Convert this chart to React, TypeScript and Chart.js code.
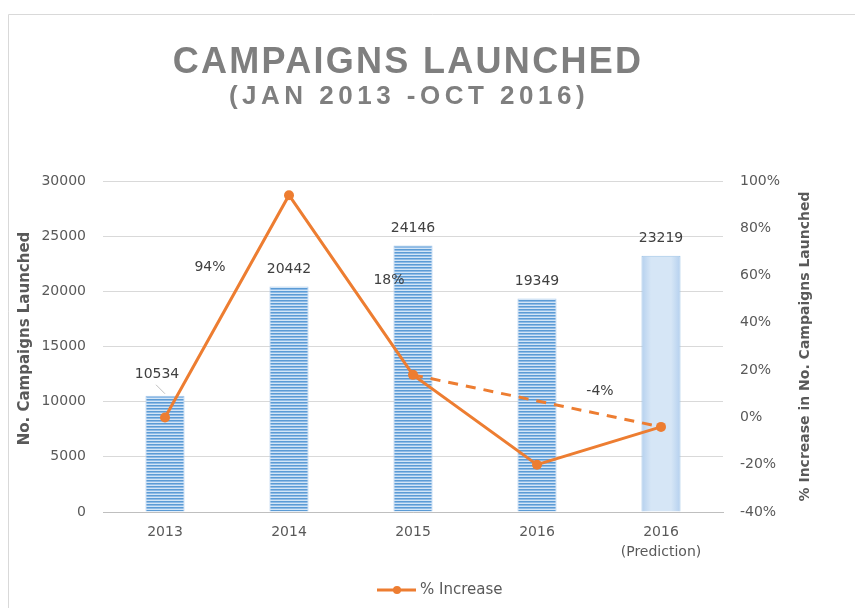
import React, { useEffect, useRef } from 'react';
import { Chart, registerables } from 'chart.js';

Chart.register(...registerables);

const categories: (string | string[])[] = ['2013', '2014', '2015', '2016', ['2016', '(Prediction)']];
const campaigns = [10534, 20442, 24146, 19349, 23219];
const pctIncrease = [0, 94, 18, -20, -4];
const pctPredictionTrend: (number | null)[] = [null, null, 18, null, -4];
const pctLabelShown = [false, true, true, false, true];
const leftAxis = { min: 0, max: 30000, step: 5000 };
const rightAxis = { min: -40, max: 100, step: 20 };

const titleText = 'CAMPAIGNS LAUNCHED';
const subtitleText = '(JAN 2013 -OCT 2016)';
const leftTitle = 'No. Campaigns Launched';
const rightTitle = '% Increase in No. Campaigns Launched';
const legendText = '% Increase';

const FONT = "'DejaVu Sans', Verdana, sans-serif";
const ORANGE = '#ed7d31';
const TEXT = '#595959';

export default function App() {
  const ref = useRef<HTMLCanvasElement | null>(null);

  useEffect(() => {
    const canvas = ref.current;
    if (!canvas) return;

    const pc = document.createElement('canvas');
    pc.width = 4;
    pc.height = 3;
    const p = pc.getContext('2d')!;
    p.fillStyle = '#5b9bd5';
    p.fillRect(0, 0, 4, 1);
    p.fillStyle = '#8fbbe6';
    p.fillRect(0, 1, 4, 1);
    p.fillStyle = '#d3e5f6';
    p.fillRect(0, 2, 4, 1);
    const stripe = canvas.getContext('2d')!.createPattern(pc, 'repeat')!;

    const decor = {
      id: 'decor',
      beforeDraw(chart: any) {
        const ctx = chart.ctx;
        ctx.save();
        ctx.strokeStyle = '#d9d9d9';
        ctx.lineWidth = 1;
        ctx.beginPath();
        ctx.moveTo(8.5, 700);
        ctx.lineTo(8.5, 14.5);
        ctx.lineTo(900, 14.5);
        ctx.stroke();
        ctx.restore();
      },
      afterDatasetsDraw(chart: any) {
        const ctx = chart.ctx;
        ctx.save();
        ctx.font = `14px ${FONT}`;
        ctx.fillStyle = '#404040';
        ctx.textAlign = 'center';
        ctx.textBaseline = 'middle';
        const barMeta = chart.getDatasetMeta(0);
        barMeta.data.forEach((bar: any, i: number) => {
          if (i === 0) {
            ctx.fillText(String(campaigns[i]), bar.x - 8, bar.y - 21);
            ctx.strokeStyle = '#bfbfbf';
            ctx.lineWidth = 1;
            ctx.beginPath();
            ctx.moveTo(bar.x - 9, bar.y - 11);
            ctx.lineTo(bar.x, bar.y - 2);
            ctx.stroke();
          } else {
            ctx.fillText(String(campaigns[i]), bar.x, bar.y - 17);
          }
        });
        const offsets: Record<number, [number, number]> = { 1: [-79, 72], 2: [-24, -95], 4: [-61, -36] };
        const lineMeta = chart.getDatasetMeta(1);
        lineMeta.data.forEach((pt: any, i: number) => {
          if (!pctLabelShown[i]) return;
          const o = offsets[i] || [0, -15];
          ctx.fillText(`${pctIncrease[i]}%`, pt.x + o[0], pt.y + o[1]);
        });
        ctx.restore();
      },
      afterDraw(chart: any) {
        const ctx = chart.ctx;
        const area = chart.chartArea;
        ctx.save();
        ctx.fillStyle = '#7f7f7f';
        ctx.textAlign = 'center';
        ctx.textBaseline = 'middle';
        ctx.font = `bold 36px 'Liberation Sans', Arial, sans-serif`;
        (ctx as any).letterSpacing = '2.3px';
        ctx.fillText(titleText, 408, 63);
        ctx.font = `bold 26px 'Liberation Sans', Arial, sans-serif`;
        (ctx as any).letterSpacing = '4.5px';
        ctx.fillText(subtitleText, 409, 97);
        (ctx as any).letterSpacing = '0px';

        ctx.fillStyle = TEXT;
        ctx.font = `bold 15px ${FONT}`;
        const cy = (area.top + area.bottom) / 2;
        ctx.save();
        ctx.translate(25, cy - 8);
        ctx.rotate(-Math.PI / 2);
        ctx.fillText(leftTitle, 0, 0);
        ctx.restore();
        ctx.save();
        ctx.translate(805, cy);
        ctx.rotate(-Math.PI / 2);
        ctx.font = `bold 14px ${FONT}`;
        ctx.fillText(rightTitle, 0, 0);
        ctx.restore();

        // legend
        const lx = 377, ly = 590;
        ctx.strokeStyle = ORANGE;
        ctx.lineWidth = 3;
        ctx.beginPath();
        ctx.moveTo(lx, ly);
        ctx.lineTo(lx + 39, ly);
        ctx.stroke();
        ctx.fillStyle = ORANGE;
        ctx.beginPath();
        ctx.arc(lx + 20, ly, 4, 0, Math.PI * 2);
        ctx.fill();
        ctx.fillStyle = TEXT;
        ctx.textAlign = 'left';
        ctx.font = `15px ${FONT}`;
        ctx.fillText(legendText, lx + 43, ly);
        ctx.restore();
      },
    };

    const chart = new Chart(canvas, {
      type: 'bar',
      data: {
        labels: categories as any,
        datasets: [
          {
            type: 'bar',
            label: 'No. Campaigns Launched',
            data: campaigns,
            yAxisID: 'y',
            order: 3,
            backgroundColor: (c: any) => {
              if (c.dataIndex < 4) return stripe;
              const ch = c.chart;
              const xs = ch.scales && ch.scales.x;
              if (!xs) return '#d6e6f6';
              const cx = xs.getPixelForValue(c.dataIndex);
              const g = ch.ctx.createLinearGradient(cx - 20, 0, cx + 20, 0);
              g.addColorStop(0, '#b3cfee');
              g.addColorStop(0.25, '#d6e6f6');
              g.addColorStop(0.75, '#d6e6f6');
              g.addColorStop(1, '#b3cfee');
              return g;
            },
            borderColor: ['#a9c9ec', '#a9c9ec', '#a9c9ec', '#a9c9ec', '#9dc3e6'],
            borderWidth: 1,
            categoryPercentage: 1,
            barPercentage: 0.315,
          } as any,
          {
            type: 'line',
            label: legendText,
            data: pctIncrease,
            yAxisID: 'y1',
            order: 1,
            borderColor: ORANGE,
            backgroundColor: ORANGE,
            borderWidth: 3,
            pointRadius: 5,
            pointBackgroundColor: ORANGE,
            pointBorderWidth: 0,
            tension: 0,
          } as any,
          {
            type: 'line',
            label: 'trend',
            data: pctPredictionTrend,
            yAxisID: 'y1',
            order: 2,
            borderColor: ORANGE,
            borderWidth: 3,
            borderDash: [10, 8],
            pointRadius: 0,
            spanGaps: true,
            tension: 0,
          } as any,
        ],
      },
      options: {
        responsive: false,
        animation: false,
        devicePixelRatio: 1,
        layout: { padding: { top: 181, left: 0, right: 0, bottom: 0 } },
        plugins: {
          legend: { display: false },
          tooltip: { enabled: false },
          title: { display: false },
        },
        scales: {
          x: {
            grid: { display: false, drawTicks: false },
            border: { display: true, color: '#bfbfbf', width: 1 },
            ticks: {
              color: TEXT,
              font: { family: FONT, size: 14, lineHeight: 1.4 },
              padding: 11,
              maxRotation: 0,
              autoSkip: false,
            },
            afterFit: (s: any) => {
              s.height = 96;
            },
          },
          y: {
            position: 'left',
            min: leftAxis.min,
            max: leftAxis.max,
            grid: { color: '#d9d9d9', drawTicks: false },
            border: { display: false },
            ticks: {
              stepSize: leftAxis.step,
              color: TEXT,
              font: { family: FONT, size: 14 },
              padding: 17,
              callback: (v: any) => String(v),
            },
            afterFit: (s: any) => {
              s.width = 103;
            },
          },
          y1: {
            position: 'right',
            min: rightAxis.min,
            max: rightAxis.max,
            grid: { display: false, drawTicks: false },
            border: { display: false },
            ticks: {
              stepSize: rightAxis.step,
              color: TEXT,
              font: { family: FONT, size: 14 },
              padding: 17,
              callback: (v: any) => `${v}%`,
            },
            afterFit: (s: any) => {
              s.width = 132;
            },
          },
        },
      } as any,
      plugins: [decor],
    });

    return () => chart.destroy();
  }, []);

  return (
    <div style={{ position: 'fixed', left: 0, top: 0, width: 855, height: 608, background: '#fff' }}>
      <canvas ref={ref} width={855} height={608} style={{ display: 'block' }} />
    </div>
  );
}
